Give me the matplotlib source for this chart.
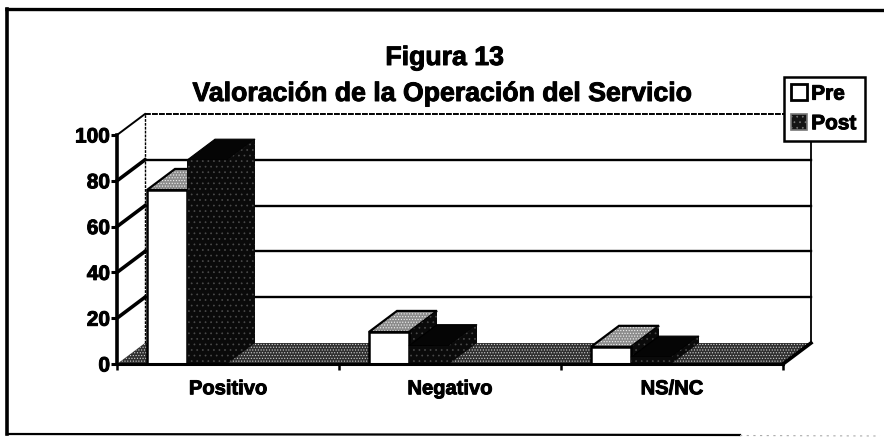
import matplotlib
matplotlib.use("Agg")
import matplotlib.pyplot as plt
import matplotlib.patheffects as pe
from matplotlib.patches import Polygon, Patch
from matplotlib.lines import Line2D

categories = ["Positivo", "Negativo", "NS/NC"]
series_names = ["Pre", "Post"]
pre_values = [76, 14, 7.5]
post_values = [89, 8, 3]
y_ticks = [0, 20, 40, 60, 80, 100]
title_lines = ["Figura 13", "Valoración de la Operación del Servicio"]

W, H = 884, 437
plt.rcParams["font.family"] = ["Liberation Sans", "DejaVu Sans"]
plt.rcParams["font.weight"] = "bold"
plt.rcParams["hatch.linewidth"] = 0.5
fig = plt.figure(figsize=(W / 100, H / 100), dpi=100, facecolor="white")

L, R, B, T = 117, 783, 364, 135
ax = fig.add_axes([L / W, 1 - B / H, (R - L) / W, (B - T) / H])
ax.set_xlim(0, 3)
ax.set_ylim(0, 100)
ax.patch.set_alpha(0)

px_x = 3 / (R - L)
px_y = 100 / (B - T)
DX = 28 * px_x   # depth offset, axis units
DY = 21 * px_y
BAR_W = 40 * px_x
OFF = 30 * px_x
heavy = [pe.withStroke(linewidth=0.7, foreground="k")]
DARK = dict(facecolor="#0a0a0a", edgecolor="#4a4a4a", hatch="...", lw=0)


def poly(pts, **kw):
    p = Polygon(pts, closed=True, clip_on=False, **kw)
    ax.add_patch(p)
    return p


# walls & grid
for v in y_ticks:
    if v == 100:
        ax.plot([DX, 3 + DX], [v + DY, v + DY], color="k", lw=1.4,
                ls=(0, (3, 0.6)), clip_on=False, zorder=1)
    elif v > 0:
        ax.plot([DX, 3 + DX], [v + DY, v + DY], color="k", lw=1.7, clip_on=False, zorder=1)
    if v > 0:
        ax.plot([0, DX], [v, v + DY], color="k", lw=2.6 if v < 100 else 1.4,
                clip_on=False, zorder=1)
ax.plot([DX, DX], [DY, 100 + DY], color="k", lw=1.0, ls=(0, (2, 0.8)), clip_on=False, zorder=1)
ax.plot([3 + DX, 3 + DX], [DY, 100 + DY], color="k", lw=1.3, clip_on=False, zorder=1)

# floor
poly([(0, 0), (DX, DY), (3 + DX, DY), (3, 0)], facecolor="#303030", edgecolor="#cfcfcf",
     hatch="......", lw=0, zorder=2)
ax.plot([3, 3 + DX], [0, DY], color="k", lw=2.6, clip_on=False, zorder=2)

# bars
for i, (a, b) in enumerate(zip(pre_values, post_values)):
    x0 = i + OFF
    x1 = x0 + BAR_W
    x2 = x1 + BAR_W
    # Pre
    poly([(x0, a), (x0 + DX, a + DY), (x1 + DX, a + DY), (x1, a)], facecolor="#8c8c8c",
         edgecolor="#f0f0f0", hatch="......", lw=0, zorder=3)
    poly([(x0, a), (x0 + DX, a + DY), (x1 + DX, a + DY), (x1, a)], fill=False,
         edgecolor="k", lw=1.6, zorder=3)
    poly([(x1, 0), (x1 + DX, DY), (x1 + DX, a + DY), (x1, a)], zorder=3, **DARK)
    ax.bar(x0, a, BAR_W, align="edge", facecolor="white", edgecolor="k", lw=1.8, zorder=4)
    # Post
    poly([(x1, b), (x1 + DX, b + DY), (x2 + DX, b + DY), (x2, b)], facecolor="#050505",
         edgecolor="k", lw=0.8, zorder=5)
    poly([(x2, 0), (x2 + DX, DY), (x2 + DX, b + DY), (x2, b)], zorder=5, **DARK)
    ax.bar(x1, b, BAR_W, align="edge", zorder=5, **DARK)

# axes
for s in ["top", "right"]:
    ax.spines[s].set_visible(False)
ax.spines["left"].set_linewidth(2.6)
ax.spines["bottom"].set_linewidth(2.2)
ax.spines["left"].set_zorder(6)
ax.spines["bottom"].set_zorder(6)
ax.set_yticks(y_ticks)
ylabels = ax.set_yticklabels([str(v) for v in y_ticks], fontsize=15, fontweight="bold")
ax.tick_params(axis="y", length=4, width=2.2, pad=1)
ax.set_xticks([0.5, 1.5, 2.5])
xlabels = ax.set_xticklabels(categories, fontsize=14.5, fontweight="bold")
ax.set_xticks([0, 1, 2, 3], minor=True)
ax.tick_params(axis="x", which="major", length=0, pad=11)
ax.tick_params(axis="x", which="minor", length=4, width=1.8)
for t in list(ylabels) + list(xlabels):
    t.set_path_effects(heavy)

# titles
for txt, cx, by in zip(title_lines, [444.5, 441], [65, 101]):
    fig.text(cx / W, 1 - by / H, txt, ha="center", va="baseline", fontsize=19.2,
             fontweight="bold", path_effects=heavy)

# legend
handles = [
    Patch(facecolor="white", edgecolor="k", lw=2.0),
    Patch(facecolor="#141414", edgecolor="#777777", hatch="...", lw=1.2),
]
leg = fig.legend(handles, series_names, loc="upper left",
                 bbox_to_anchor=(783.5 / W, 1 - 76.5 / H), bbox_transform=fig.transFigure,
                 fontsize=15, frameon=True, fancybox=False, framealpha=1,
                 edgecolor="k", handlelength=0.75, handleheight=0.8, handletextpad=0.2,
                 labelspacing=0.5, borderaxespad=0, borderpad=0.38)
leg.get_frame().set_linewidth(1.8)
leg.set_zorder(10)
for t in leg.get_texts():
    t.set_path_effects(heavy)

# outer border (scan shows left, top, bottom)
fig.add_artist(Line2D([7 / W, 7 / W], [1 - 9 / H, 1 - 434 / H], color="k", lw=2.6))
fig.add_artist(Line2D([7 / W, 883 / W], [1 - 9.5 / H, 1 - 10.5 / H], color="k", lw=2.4))
fig.add_artist(Line2D([7 / W, 740 / W], [1 - 434 / H, 1 - 435 / H], color="k", lw=1.6))
fig.add_artist(Line2D([740 / W, 880 / W], [1 - 435.5 / H, 1 - 436 / H], color="#aaaaaa", lw=0.8,
                      ls=(0, (2, 4))))

fig.savefig("out.png", dpi=100, facecolor="white")
